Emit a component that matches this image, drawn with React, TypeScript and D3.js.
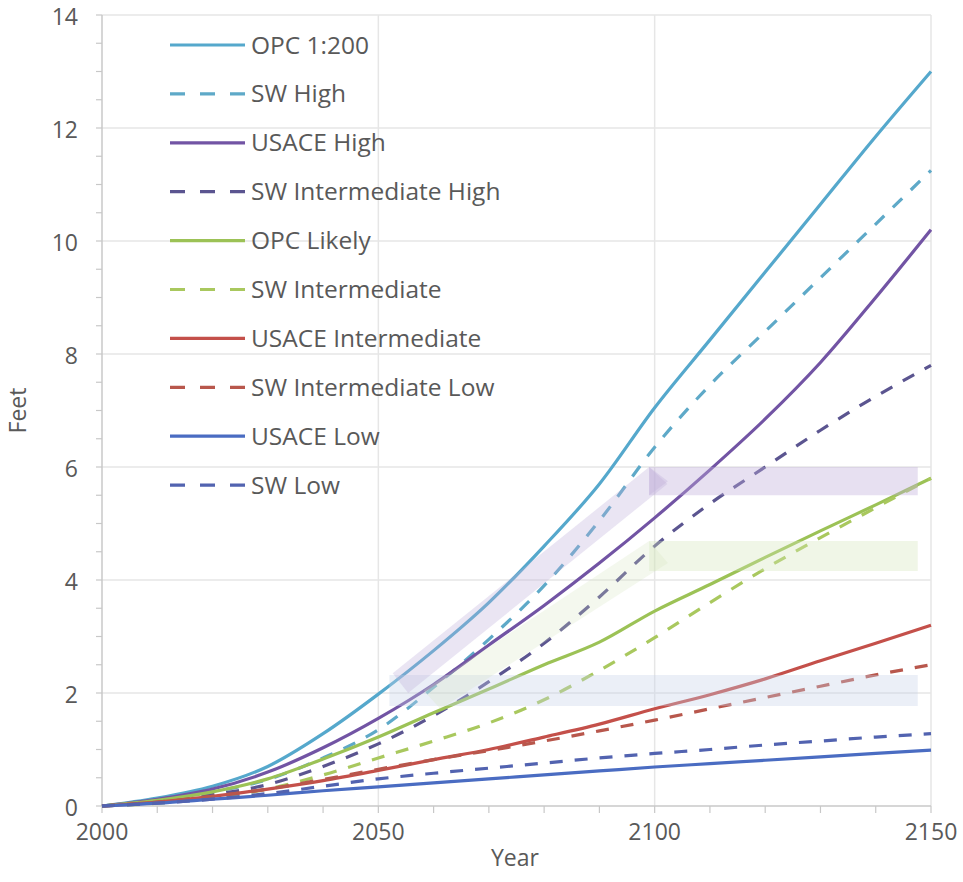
import React from "react";
import * as d3 from "d3";

const years = [2000, 2010, 2020, 2030, 2040, 2050, 2060, 2070, 2080, 2090, 2100, 2110, 2120, 2130, 2140, 2150];

const opc1in200 = [0, 0.14, 0.35, 0.7, 1.28, 1.98, 2.75, 3.6, 4.6, 5.7, 7.05, 8.25, 9.45, 10.65, 11.85, 13.0];
const swHigh = [0, 0.1, 0.25, 0.47, 0.85, 1.35, 2.1, 2.95, 3.9, 5.05, 6.35, 7.45, 8.4, 9.35, 10.3, 11.25];
const usaceHigh = [0, 0.12, 0.3, 0.6, 1.03, 1.55, 2.15, 2.85, 3.55, 4.3, 5.1, 5.95, 6.85, 7.85, 9.0, 10.2];
const swIntHigh = [0, 0.08, 0.2, 0.38, 0.7, 1.1, 1.6, 2.2, 2.88, 3.7, 4.6, 5.35, 6.0, 6.65, 7.25, 7.8];
const opcLikely = [0, 0.1, 0.25, 0.48, 0.83, 1.22, 1.65, 2.07, 2.5, 2.9, 3.45, 3.92, 4.4, 4.87, 5.33, 5.8];
const swInt = [0, 0.05, 0.15, 0.3, 0.55, 0.85, 1.15, 1.47, 1.88, 2.4, 2.98, 3.6, 4.2, 4.75, 5.28, 5.8];
const usaceInt = [0, 0.07, 0.17, 0.3, 0.45, 0.63, 0.82, 1.0, 1.22, 1.45, 1.72, 1.97, 2.25, 2.57, 2.88, 3.2];
const swIntLow = [0, 0.07, 0.17, 0.3, 0.47, 0.65, 0.82, 0.98, 1.15, 1.33, 1.52, 1.72, 1.92, 2.12, 2.32, 2.5];
const usaceLow = [0, 0.05, 0.12, 0.19, 0.27, 0.34, 0.41, 0.48, 0.55, 0.62, 0.69, 0.75, 0.81, 0.87, 0.93, 0.99];
const swLow = [0, 0.05, 0.12, 0.22, 0.35, 0.48, 0.58, 0.67, 0.76, 0.85, 0.93, 1.0, 1.08, 1.15, 1.22, 1.28];

const seriesNames = [
  "OPC 1:200",
  "SW High",
  "USACE High",
  "SW Intermediate High",
  "OPC Likely",
  "SW Intermediate",
  "USACE Intermediate",
  "SW Intermediate Low",
  "USACE Low",
  "SW Low",
];
const seriesValues = [opc1in200, swHigh, usaceHigh, swIntHigh, opcLikely, swInt, usaceInt, swIntLow, usaceLow, swLow];
const seriesColors = ["#55a8cc", "#5ea9c8", "#7254a4", "#5b5590", "#9cc256", "#a9c85e", "#c4504a", "#b8574c", "#4a6cc2", "#5263b0"];
const seriesDashed = [false, true, false, true, false, true, false, true, false, true];

const yTicks = [0, 2, 4, 6, 8, 10, 12, 14];
const xTicks = [2000, 2050, 2100, 2150];

// translucent range arrows, in [year, feet]
const purpleDiag = [[2052.6, 2.35], [2055.4, 2.0], [2102.3, 5.7], [2099.0, 6.0]];
const purpleFlat = [[2099.0, 6.0], [2147.6, 6.0], [2147.6, 5.5], [2099.0, 5.5]];
const purpleHead = [[2099.0, 6.0], [2102.4, 5.75], [2099.0, 5.5]];
const greenDiag = [[2058.2, 2.05], [2061.2, 1.72], [2102.4, 4.3], [2099.0, 4.69]];
const greenFlat = [[2099.0, 4.69], [2147.6, 4.69], [2147.6, 4.16], [2099.0, 4.16]];
const blueFlat = [[2052.0, 2.32], [2147.6, 2.32], [2147.6, 1.77], [2052.0, 1.77]];

const W = 963;
const H = 882;
const FONT = "'Open Sans', 'Liberation Sans', sans-serif";

export default function App() {
  const x = d3.scaleLinear().domain([2000, 2150]).range([102, 931]);
  const y = d3.scaleLinear().domain([0, 14]).range([806, 15]);

  const line = d3
    .line<[number, number]>()
    .x((d) => x(d[0]))
    .y((d) => y(d[1]))
    .curve(d3.curveMonotoneX);

  const poly = (pts: number[][]) =>
    "M" + pts.map((p) => `${x(p[0])},${y(p[1])}`).join("L") + "Z";

  const minorX = d3.range(2000, 2151, 10);
  const minorY = d3.range(0, 14.01, 0.5);

  return (
    <svg width={W} height={H} style={{ position: "absolute", left: 0, top: 0, background: "#fff" }} fontFamily={FONT}>
      <rect x={0} y={0} width={W} height={H} fill="#fff" />
      {/* grid */}
      {yTicks.slice(1).map((t) => (
        <line key={"gy" + t} x1={x(2000)} x2={x(2150)} y1={y(t)} y2={y(t)} stroke="#e6e6e6" strokeWidth={1.5} />
      ))}
      {xTicks.slice(1).map((t) => (
        <line key={"gx" + t} x1={x(t)} x2={x(t)} y1={y(0)} y2={y(14)} stroke="#e6e6e6" strokeWidth={1.5} />
      ))}
      {/* axes */}
      <line x1={x(2000)} x2={x(2000)} y1={y(0)} y2={y(14)} stroke="#c8c8c8" strokeWidth={1.5} />
      <line x1={x(2000)} x2={x(2150)} y1={y(0)} y2={y(0)} stroke="#c8c8c8" strokeWidth={1.5} />
      {minorY.map((t) => (
        <line key={"ty" + t} x1={x(2000) - 6} x2={x(2000)} y1={y(t)} y2={y(t)} stroke="#c8c8c8" strokeWidth={1.2} />
      ))}
      {minorX.map((t) => (
        <line key={"tx" + t} x1={x(t)} x2={x(t)} y1={y(0)} y2={y(0) + 7} stroke="#c8c8c8" strokeWidth={1.2} />
      ))}
      {yTicks.map((t) => (
        <text key={"ly" + t} x={x(2000) - 24} y={y(t) + 2} dy="0.35em" textAnchor="end" fontSize={23} fill="#595959">
          {t}
        </text>
      ))}
      {xTicks.map((t) => (
        <text key={"lx" + t} x={x(t)} y={y(0) + 34} textAnchor="middle" fontSize={23} fill="#595959">
          {t}
        </text>
      ))}
      <text x={515} y={866} textAnchor="middle" fontSize={23} fill="#595959">Year</text>
      <text transform={`translate(26,${y(7)}) rotate(-90)`} textAnchor="middle" fontSize={23} fill="#595959">Feet</text>

      {/* series */}
      {seriesValues.map((vals, i) => (
        <path
          key={"s" + i}
          d={line(years.map((yr, j) => [yr, vals[j]] as [number, number])) || ""}
          fill="none"
          stroke={seriesColors[i]}
          strokeWidth={3.2}
          strokeDasharray={seriesDashed[i] ? "13,12" : undefined}
        />
      ))}

      {/* translucent arrows */}
      <path d={poly(blueFlat)} fill="#c6d0e8" opacity={0.35} />
      <path d={poly(greenDiag)} fill="#d3e5bb" opacity={0.25} />
      <path d={poly(greenFlat)} fill="#d3e5bb" opacity={0.35} />
      <path d={poly(purpleDiag)} fill="#bfaedb" opacity={0.32} />
      <path d={poly(purpleFlat)} fill="#bfaedb" opacity={0.38} />
      <path d={poly(purpleHead)} fill="#bfaedb" opacity={0.35} />

      {/* legend */}
      {seriesNames.map((name, i) => {
        const ly = 45 + i * 48.9;
        return (
          <g key={"lg" + i}>
            <line
              x1={170}
              x2={245}
              y1={ly}
              y2={ly}
              stroke={seriesColors[i]}
              strokeWidth={3.2}
              strokeDasharray={seriesDashed[i] ? "15,15" : undefined}
            />
            <text x={251} y={ly} dy="0.35em" fontSize={24.5} fill="#595959">
              {name}
            </text>
          </g>
        );
      })}
    </svg>
  );
}
